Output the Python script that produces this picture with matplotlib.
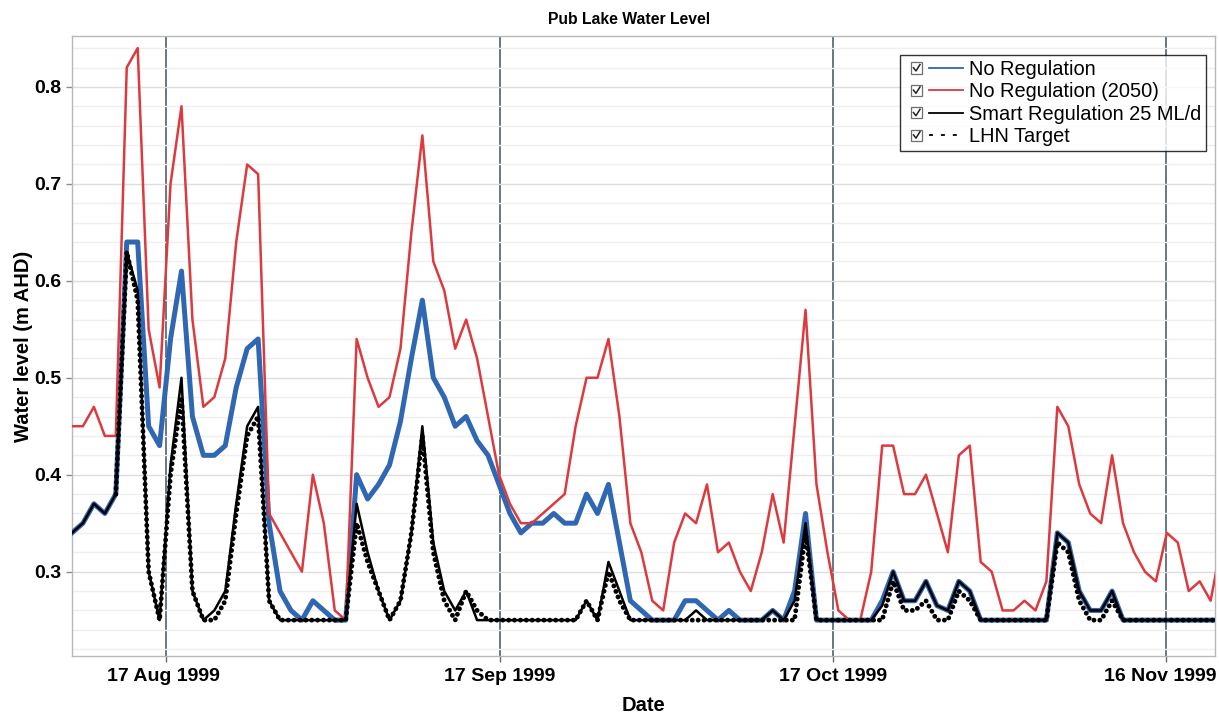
import numpy as np
import matplotlib
matplotlib.use("Agg")
import matplotlib.pyplot as plt
from matplotlib.lines import Line2D
from matplotlib.patches import Rectangle
from matplotlib.legend_handler import HandlerBase
from matplotlib.ticker import MultipleLocator, FixedLocator, FixedFormatter
from matplotlib.transforms import ScaledTranslation

plt.rcParams['font.family'] = ['Liberation Sans', 'DejaVu Sans']

# ---------------- data (daily samples, day index from first sample) ----------------
no_reg = [0.34, 0.35, 0.37, 0.36, 0.38, 0.64, 0.64, 0.45, 0.43, 0.54,
          0.61, 0.46, 0.42, 0.42, 0.43, 0.49, 0.53, 0.54, 0.35, 0.28,
          0.26, 0.25, 0.27, 0.26, 0.25, 0.25, 0.40, 0.375, 0.39, 0.41,
          0.455, 0.52, 0.58, 0.50, 0.48, 0.45, 0.46, 0.435, 0.42, 0.39,
          0.36, 0.34, 0.35, 0.35, 0.36, 0.35, 0.35, 0.38, 0.36, 0.39,
          0.33, 0.27, 0.26, 0.25, 0.25, 0.25, 0.27, 0.27, 0.26, 0.25,
          0.26, 0.25, 0.25, 0.25, 0.26, 0.25, 0.28, 0.36, 0.25, 0.25,
          0.25, 0.25, 0.25, 0.25, 0.27, 0.30, 0.27, 0.27, 0.29, 0.265,
          0.26, 0.29, 0.28, 0.25, 0.25, 0.25, 0.25, 0.25, 0.25, 0.25,
          0.34, 0.33, 0.28, 0.26, 0.26, 0.28, 0.25, 0.25, 0.25, 0.25,
          0.25, 0.25, 0.25, 0.25, 0.25, 0.25]

no_reg_2050 = [0.45, 0.45, 0.47, 0.44, 0.44, 0.82, 0.84, 0.55, 0.49, 0.70,
               0.78, 0.56, 0.47, 0.48, 0.52, 0.64, 0.72, 0.71, 0.36, 0.34,
               0.32, 0.30, 0.40, 0.35, 0.26, 0.25, 0.54, 0.50, 0.47, 0.48,
               0.53, 0.65, 0.75, 0.62, 0.59, 0.53, 0.56, 0.52, 0.46, 0.40,
               0.37, 0.35, 0.35, 0.36, 0.37, 0.38, 0.45, 0.50, 0.50, 0.54,
               0.46, 0.35, 0.32, 0.27, 0.26, 0.33, 0.36, 0.35, 0.39, 0.32,
               0.33, 0.30, 0.28, 0.32, 0.38, 0.33, 0.45, 0.57, 0.39, 0.32,
               0.26, 0.25, 0.25, 0.30, 0.43, 0.43, 0.38, 0.38, 0.40, 0.36,
               0.32, 0.42, 0.43, 0.31, 0.30, 0.26, 0.26, 0.27, 0.26, 0.29,
               0.47, 0.45, 0.39, 0.36, 0.35, 0.42, 0.35, 0.32, 0.30, 0.29,
               0.34, 0.33, 0.28, 0.29, 0.27, 0.33]

smart_reg = [0.34, 0.35, 0.37, 0.36, 0.38, 0.63, 0.59, 0.30, 0.25, 0.41,
             0.50, 0.28, 0.25, 0.26, 0.28, 0.37, 0.45, 0.47, 0.27, 0.25,
             0.25, 0.25, 0.25, 0.25, 0.25, 0.25, 0.37, 0.32, 0.28, 0.25,
             0.27, 0.34, 0.45, 0.33, 0.28, 0.26, 0.28, 0.25, 0.25, 0.25,
             0.25, 0.25, 0.25, 0.25, 0.25, 0.25, 0.25, 0.27, 0.25, 0.31,
             0.28, 0.25, 0.25, 0.25, 0.25, 0.25, 0.25, 0.26, 0.25, 0.25,
             0.25, 0.25, 0.25, 0.25, 0.26, 0.25, 0.27, 0.35, 0.25, 0.25,
             0.25, 0.25, 0.25, 0.25, 0.265, 0.30, 0.27, 0.27, 0.29, 0.265,
             0.26, 0.29, 0.28, 0.25, 0.25, 0.25, 0.25, 0.25, 0.25, 0.25,
             0.34, 0.33, 0.28, 0.26, 0.26, 0.28, 0.25, 0.25, 0.25, 0.25,
             0.25, 0.25, 0.25, 0.25, 0.25, 0.25]

nan = np.nan
lhn_target = [nan, nan, nan, nan, 0.38, 0.63, 0.58, 0.30, 0.25, 0.40,
              0.48, 0.28, 0.25, 0.25, 0.27, 0.36, 0.44, 0.46, 0.27, 0.25,
              0.25, 0.25, 0.25, 0.25, 0.25, 0.25, 0.35, 0.31, 0.28, 0.25,
              0.27, 0.34, 0.44, 0.32, 0.27, 0.25, 0.28, 0.26, 0.25, 0.25,
              0.25, 0.25, 0.25, 0.25, 0.25, 0.25, 0.25, 0.27, 0.25, 0.30,
              0.27, 0.25, 0.25, 0.25, 0.25, 0.25, 0.25, 0.25, 0.25, 0.25,
              0.25, 0.25, 0.25, 0.25, 0.25, 0.25, 0.25, 0.34, 0.25, 0.25,
              0.25, 0.25, 0.25, 0.25, 0.25, 0.29, 0.26, 0.26, 0.27, 0.25,
              0.25, 0.28, 0.27, 0.25, 0.25, 0.25, 0.25, 0.25, 0.25, 0.25,
              0.33, 0.32, 0.27, 0.25, 0.25, 0.27, 0.25, 0.25, 0.25, 0.25,
              0.25, 0.25, 0.25, 0.25, 0.25, 0.25]

days = np.arange(len(no_reg))

tick_days = [8.61, 39.05, 69.49, 99.93]
tick_labels = ["17 Aug 1999", "17 Sep 1999", "17 Oct 1999", "16 Nov 1999"]

series_labels = ["No Regulation", "No Regulation (2050)",
                 "Smart Regulation 25 ML/d", "LHN Target"]

BLUE = "#2f67b2"
RED = "#dc3a3f"
BLACK = "#000000"

# ---------------- figure ----------------
fig = plt.figure(figsize=(12.19, 7.13), dpi=100)
ax = fig.add_axes([72 / 1219, 1 - 656 / 713, (1215 - 72) / 1219, (656 - 36) / 713])

ax.plot(days, no_reg, color=BLUE, lw=3.6, zorder=3)
ax.plot(days, no_reg_2050, color=RED, lw=1.8, zorder=4)
ax.plot(days, smart_reg, color=BLACK, lw=1.8, zorder=5)
ax.plot(days, lhn_target, color=BLACK, lw=3.5, linestyle=(0, (0.01, 1.2)),
        dash_capstyle='round', zorder=6)

ax.set_xlim(0, 104.4)
ax.set_ylim(0.213, 0.8525)

ax.xaxis.set_major_locator(FixedLocator(tick_days))
ax.xaxis.set_major_formatter(FixedFormatter(tick_labels))
ax.yaxis.set_major_locator(MultipleLocator(0.1))
ax.yaxis.set_minor_locator(MultipleLocator(0.02))
ax.yaxis.set_major_formatter(plt.FuncFormatter(lambda v, p: f"{v:.1f}"))

ax.grid(axis='y', which='major', color='#dedede', lw=1.0, zorder=0)
ax.grid(axis='y', which='minor', color='#efefef', lw=1.0, zorder=0)
ax.grid(axis='x', which='major', color='#5e6b76', lw=1.3, zorder=1)

for s in ax.spines.values():
    s.set_color('#b8b8b8')
    s.set_linewidth(1.0)

ax.tick_params(axis='both', which='major', length=4.3, width=1.0, color='#8a8a8a',
               labelsize=14, pad=3)
ax.tick_params(axis='x', color='#5e6b76', pad=4)
ax.tick_params(axis='y', which='minor', length=0)
xlabs = ax.get_xticklabels()
for lab in xlabs + ax.get_yticklabels():
    lab.set_fontweight('bold')
# keep the last date label inside the figure, and nudge the first slightly
xlabs[0].set_transform(xlabs[0].get_transform() + ScaledTranslation(-0.025, 0, fig.dpi_scale_trans))
xlabs[-1].set_transform(xlabs[-1].get_transform() + ScaledTranslation(-0.06, 0, fig.dpi_scale_trans))

ax.set_title("Pub Lake Water Level", fontsize=11.3, fontweight='bold', pad=9,
             x=0.487)
ax.set_xlabel("Date", fontsize=14.5, fontweight='bold', labelpad=8)
ax.set_ylabel("Water level (m AHD)", fontsize=14.5, fontweight='bold', labelpad=1.5)


# ---------------- legend with check boxes ----------------
class CheckHandler(HandlerBase):
    def create_artists(self, legend, orig_handle, xdescent, ydescent, width,
                       height, fontsize, trans):
        yc = (height - ydescent) / 2
        x0 = -xdescent
        bx = x0 + 4.3
        box = 8.2
        rect = Rectangle((bx, yc - box / 2), box, box, facecolor='white',
                         edgecolor='#6f6f6f', lw=0.9, transform=trans)
        chk = Line2D([bx + 1.8, bx + 3.6, bx + 6.5],
                     [yc + 0.2, yc - 2.1, yc + 2.5],
                     color='#222222', lw=1.1, transform=trans)
        ln = Line2D([x0 + 17.3, x0 + width], [yc, yc])
        ln.update_from(orig_handle)
        ln.set_transform(trans)
        return [rect, chk, ln]


proxies = [Line2D([], [], color=BLUE, lw=1.3),
           Line2D([], [], color=RED, lw=1.3),
           Line2D([], [], color=BLACK, lw=1.3),
           Line2D([], [], color=BLACK, lw=1.3, linestyle=(0, (2.2, 4.4)))]

leg = ax.legend(proxies, series_labels, loc='upper left',
                bbox_to_anchor=((900 - 72) / 1143, 1 - (55 - 36) / 620),
                borderaxespad=0,
                handler_map={Line2D: CheckHandler()},
                prop={'size': 14.4, 'family': 'Liberation Sans'},
                handlelength=2.9, handletextpad=0.3, labelspacing=0.17,
                borderpad=0.25, frameon=True, fancybox=False)
leg.get_frame().set_edgecolor('#000000')
leg.get_frame().set_linewidth(1.0)
leg.set_zorder(10)

fig.savefig("out.png", dpi=100, facecolor='white')
